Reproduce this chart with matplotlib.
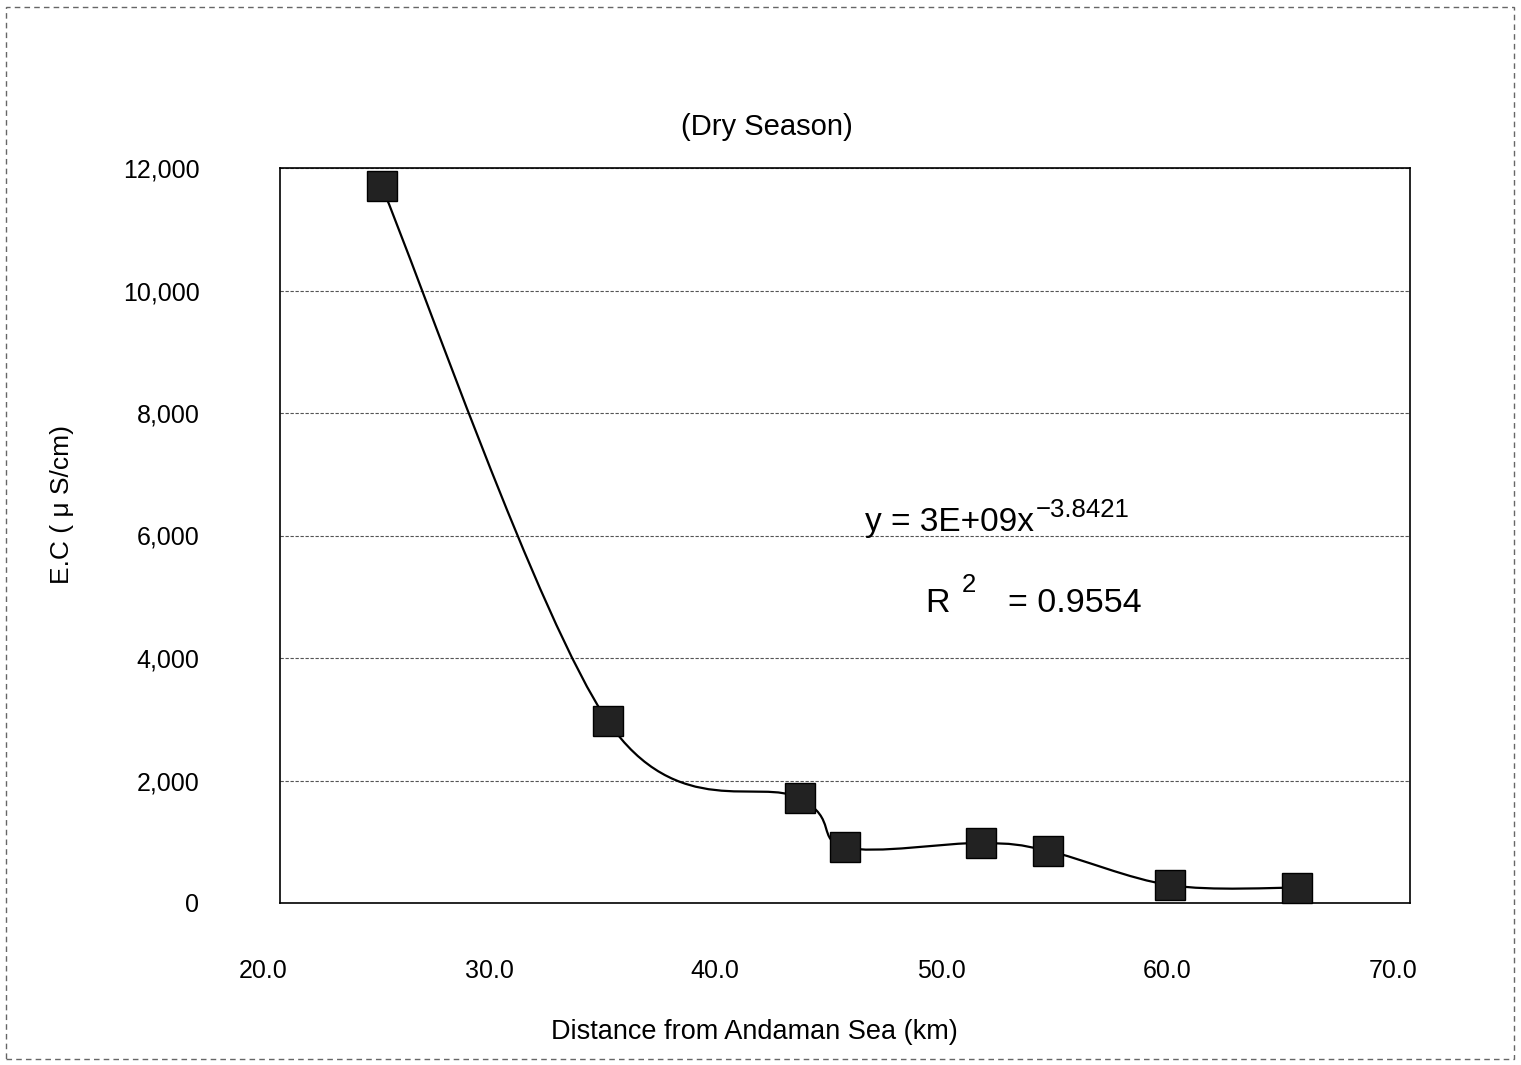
import matplotlib.pyplot as plt
import matplotlib.transforms as mtransforms
from matplotlib.path import Path
from matplotlib.patches import PathPatch, Rectangle
import numpy as np

plt.rcParams['font.family'] = ['Liberation Sans', 'DejaVu Sans']

# distance from Andaman Sea (km) and E.C (uS/cm)
distance = [24.5, 34.5, 43.0, 45.0, 51.0, 54.0, 59.4, 65.0]
ec = [11700, 2970, 1710, 910, 980, 850, 290, 250]

xticks = [20, 30, 40, 50, 60, 70]
yticks = [0, 2000, 4000, 6000, 8000, 10000, 12000]


def smooth_path(xs, ys, t=1/6):
    # catmull-rom style bezier like excel's smoothed line
    xs = np.asarray(xs, float)
    ys = np.asarray(ys, float)
    n = len(xs)
    verts = [(xs[0], ys[0])]
    codes = [Path.MOVETO]
    for i in range(n - 1):
        i0 = max(i - 1, 0)
        i3 = min(i + 2, n - 1)
        c1 = (xs[i] + (xs[i + 1] - xs[i0]) * t, ys[i] + (ys[i + 1] - ys[i0]) * t)
        c2 = (xs[i + 1] - (xs[i3] - xs[i]) * t, ys[i + 1] - (ys[i3] - ys[i]) * t)
        verts += [c1, c2, (xs[i + 1], ys[i + 1])]
        codes += [Path.CURVE4] * 3
    return Path(verts, codes)


W, H = 1521, 1065
fig = plt.figure(figsize=(W / 100, H / 100), dpi=100)
ax = fig.add_axes([280/W, 1 - 903/H, 1130/W, 735/H])

ax.add_patch(PathPatch(smooth_path(distance, ec), fill=False, lw=1.6,
                       edgecolor='black', zorder=3))
ax.plot(distance, ec, linestyle='none', marker='s', markersize=21,
        color='#222222', markeredgecolor='black', zorder=4, clip_on=False)

ax.set_xlim(20, 70)
ax.set_ylim(0, 12000)
ax.set_xticks(xticks)
ax.set_xticklabels([f'{v:.1f}' for v in xticks])
ax.set_yticks(yticks)
ax.set_yticklabels([f'{v:,}' for v in yticks])
ax.tick_params(axis='both', labelsize=18, length=0)
ax.tick_params(axis='x', pad=40)
ax.tick_params(axis='y', pad=58)
offset = mtransforms.ScaledTranslation(-0.17, 0, fig.dpi_scale_trans)
for lab in ax.get_xticklabels():
    lab.set_transform(lab.get_transform() + offset)

ax.grid(axis='y', color='#555555', linestyle=(0, (3, 1.5)), lw=0.8)
for s in ax.spines.values():
    s.set_linewidth(1.2)
    s.set_color('black')

fig.text(62/W, 1 - 505/H, 'E.C ( \u03bc S/cm)', fontsize=19, rotation=90,
         ha='center', va='center')
fig.text(754/W, 1 - 1032/H, 'Distance from Andaman Sea (km)', fontsize=19.5,
         ha='center', va='center')
fig.text(767/W, 1 - 127/H, '(Dry Season)', fontsize=21, fontweight='medium',
         ha='center', va='center')

# trendline label
fig.text(865/W, 1 - 522/H, 'y = 3E+09x', fontsize=24, ha='left', va='center')
fig.text(1036/W, 1 - 510/H, '\u22123.8421', fontsize=18.5, ha='left',
         va='center')
fig.text(925/W, 1 - 603/H, 'R', fontsize=24.5, ha='left', va='center')
fig.text(962/W, 1 - 585/H, '2', fontsize=18.5, ha='left', va='center')
fig.text(1008/W, 1 - 603/H, '= 0.9554', fontsize=24.5, ha='left', va='center')

fig.patches.append(Rectangle((6/W, 6/H), 1508/W, 1052/H,
                             transform=fig.transFigure, fill=False,
                             edgecolor='#666666', lw=1, linestyle=(0, (4, 3))))

fig.savefig('out.png', dpi=100)
